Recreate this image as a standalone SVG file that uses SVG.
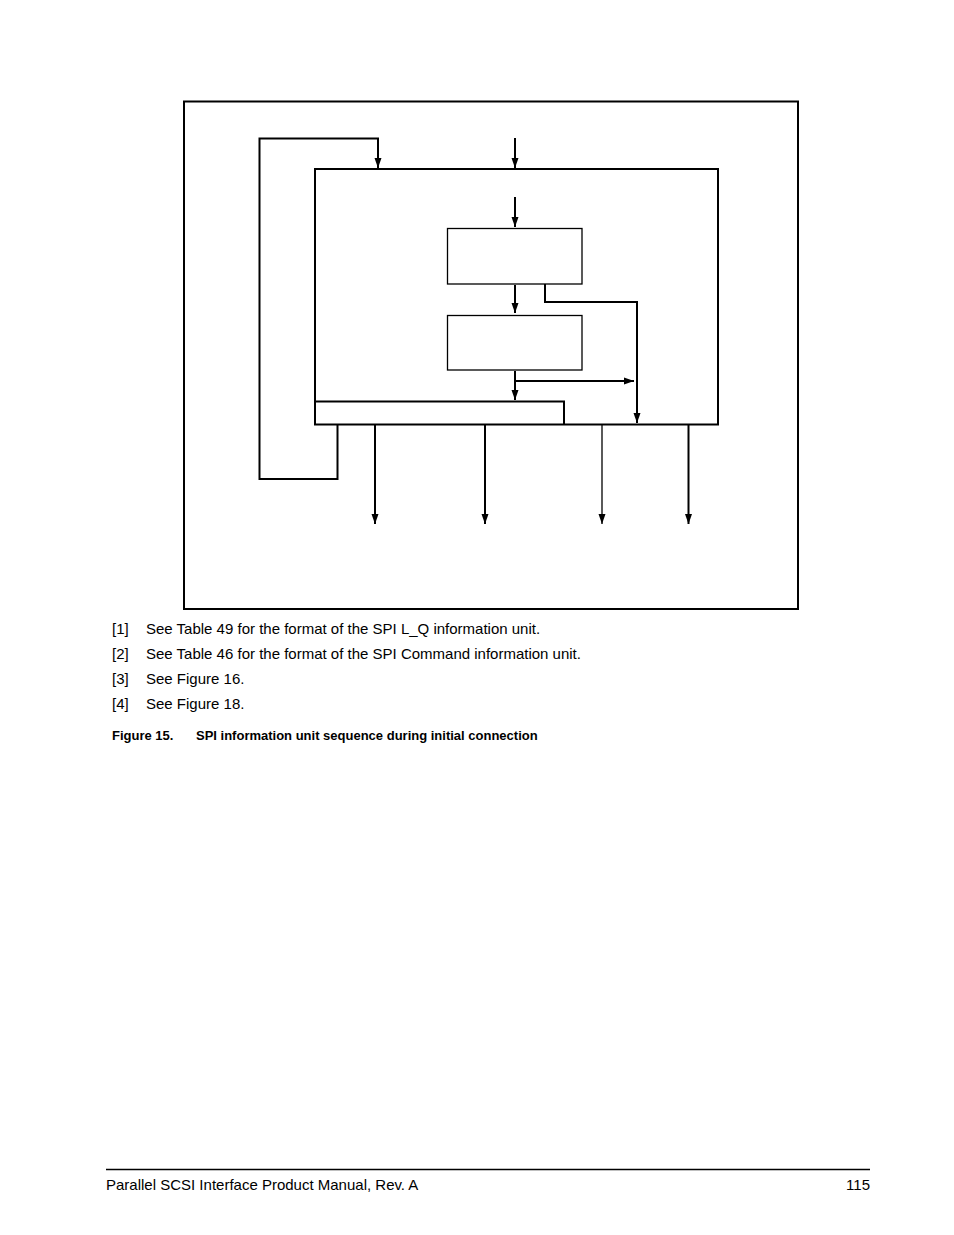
<svg xmlns="http://www.w3.org/2000/svg" width="954" height="1235" viewBox="0 0 954 1235">
<style>
.l{fill:none;stroke:#000;stroke-width:2}
.t{fill:none;stroke:#000;stroke-width:1.3}
.b{fill:#fff;stroke:#000;stroke-width:1.3}
text{font-family:"Liberation Sans",Arial,sans-serif;font-size:15px;fill:#000}
</style>
<defs>
<marker id="a" viewBox="0 0 10 10" refX="10" refY="5" markerWidth="10" markerHeight="10" markerUnits="userSpaceOnUse" orient="auto"><path d="M0,1.5L10,5L0,8.5z" fill="#000"/></marker>
</defs>
<rect x="0" y="0" width="954" height="1235" fill="#fff"/>
<g id="frame"><rect x="184" y="101.5" width="614" height="507.5" class="l"/></g>
<g id="outer"><rect x="315" y="169" width="403" height="255.5" class="l"/></g>
<g id="box1"><rect x="447.5" y="228.5" width="134.5" height="55.5" class="b"/></g>
<g id="box2"><rect x="447.5" y="315.5" width="134.5" height="54.5" class="b"/></g>
<g id="bar"><path d="M315,401.5H564V424.5" class="l"/></g>
<g id="connectors">
<path d="M337.5,425V479H259.5V138.5H378V168" class="l" marker-end="url(#a)"/>
<path d="M515,138V168" class="l" marker-end="url(#a)"/>
<path d="M515,197V227" class="l" marker-end="url(#a)"/>
<path d="M515,285V313" class="l" marker-end="url(#a)"/>
<path d="M545,284V302H637V423" class="l" marker-end="url(#a)"/>
<path d="M515,371V400" class="l" marker-end="url(#a)"/>
<path d="M515,381H634" class="l" marker-end="url(#a)"/>
<path d="M375,425V524" class="l" marker-end="url(#a)"/>
<path d="M485,425V524" class="l" marker-end="url(#a)"/>
<path d="M602,425V524" class="t" marker-end="url(#a)"/>
<path d="M688.5,425V524" class="l" marker-end="url(#a)"/>
</g>
<text x="112" y="634">[1]</text><text x="146" y="634">See Table 49 for the format of the SPI L_Q information unit.</text>
<text x="112" y="659">[2]</text><text x="146" y="659">See Table 46 for the format of the SPI Command information unit.</text>
<text x="112" y="684">[3]</text><text x="146" y="684">See Figure 16.</text>
<text x="112" y="709">[4]</text><text x="146" y="709">See Figure 18.</text>
<text x="112" y="740" style="font-size:13px;font-weight:bold">Figure 15.</text>
<text x="196" y="740" style="font-size:13px;font-weight:bold">SPI information unit sequence during initial connection</text>
<path d="M106,1169.5H870" stroke="#000" stroke-width="1.5"/>
<text x="106" y="1190">Parallel SCSI Interface Product Manual, Rev. A</text>
<text x="870" y="1190" text-anchor="end">115</text>
</svg>
